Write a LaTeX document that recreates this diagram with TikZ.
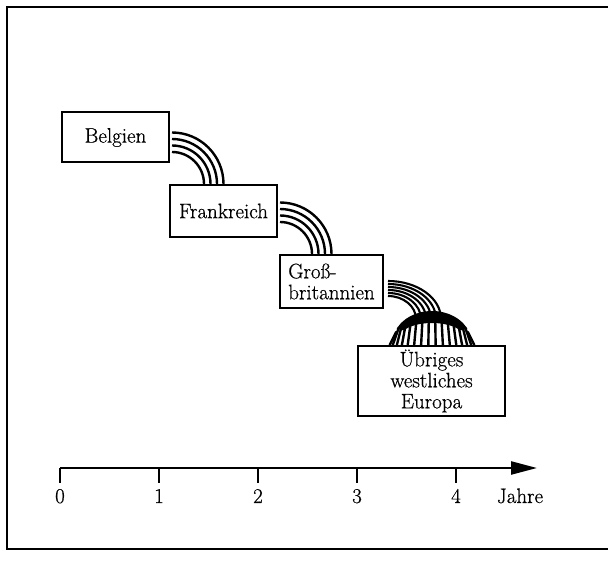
\documentclass[tikz,border=0pt]{standalone}
\usepackage{fontspec}
\newfontfamily\mapfont[FakeBold=0.6]{Latin Modern Roman}
\usepackage{tikz}
\usetikzlibrary{arrows.meta, calc}

\begin{document}
\begin{tikzpicture}[x=1pt, y=1pt,
  land/.style={draw, rectangle, line width=2, minimum height=50, inner sep=3, align=center, font=\mapfont\fontsize{21}{21}\selectfont},
  strand/.style={line width=2.4},
  fine/.style={line width=2.1},
  axis/.style={line width=2.4},
  label/.style={anchor=base, font=\mapfont\fontsize{21}{21}\selectfont}]
\useasboundingbox (0,0) rectangle (608,575);
% frame, open on the right
\draw[line width=1.8] (612,568) -- (7,568) -- (7,26) -- (612,26);

% countries
\node[land, minimum width=107] (belgien) at (115.5,437.5) {Belgien};
\node[land, minimum width=107, minimum height=52] (frankreich) at (223.5,364) {Frankreich};
\node[land, minimum width=103, minimum height=53, align=left] (gross) at (331.5,293.5) {Groß-\\britannien};
\node[land, minimum width=147, minimum height=70] (rest) at (431.5,194) {Übriges\\westliches\\Europa};

% spreading from country to country
\foreach \r in {32,38.5,45,51.5} {
  \draw[strand] ($(belgien.east |- frankreich.north)+(2,0)$) ++(0,\r) arc[start angle=90, end angle=0, radius=\r];
  \draw[strand] ($(frankreich.east |- gross.north)+(2,0)$) ++(0,\r) arc[start angle=90, end angle=0, radius=\r];
}

% into the rest of western europe
\coordinate (hub) at ($(gross.east |- rest.north)+(4,26)$);
\foreach \i in {0,...,5}
  \draw[fine] (hub) ++(0,38-3*\i) arc[start angle=90, end angle=0, x radius=53-5*\i, y radius=38-3*\i];
\coordinate (dome) at ($(rest.north)+(0.5,3)$);
\foreach \k [evaluate=\k as \a using 20+9.3333*\k] in {0,...,15}
  \draw[strand] ($(dome)+(\a:38 and 30)$) -- ($(dome)+({45*cos(\a)},-3)$);
\fill ($(dome)+(155:39 and 31)$) arc[start angle=155, end angle=25, x radius=39, y radius=31]
  -- ($(dome)+(0,6)+(25:31 and 13)$) arc[start angle=25, end angle=155, x radius=31, y radius=13] -- cycle;

% time axis
\coordinate (o) at (60,107);
\coordinate (e) at (537,107);
\draw[axis, -{Triangle[length=26pt, width=13pt]}] (o) -- (e);
\foreach \i in {0,...,4} {
  \draw[axis] ($(o)+(99*\i,0)$) -- ++(0,-15);
  \node[label] (t\i) at ($(o)+(99*\i,-35)$) {\i};
}
\node[label] (jahre) at (520,72) {Jahre};
\end{tikzpicture}
\end{document}
